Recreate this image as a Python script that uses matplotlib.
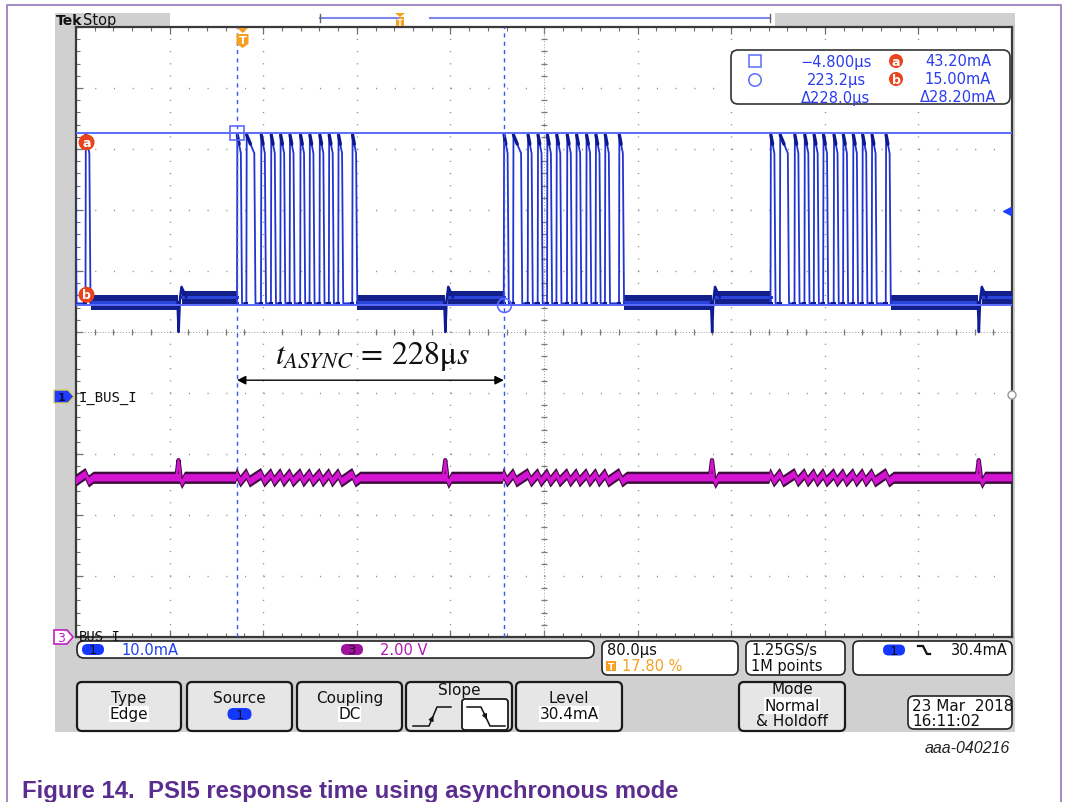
import numpy as np
import matplotlib
matplotlib.use('Agg')
import matplotlib.pyplot as plt
from matplotlib.patches import FancyBboxPatch, Rectangle, Circle, Polygon

plt.rcParams['font.family'] = ['DejaVu Sans']
plt.rcParams['mathtext.fontset'] = 'stix'

# scope settings
t_div = 80.0          # us/div
n_div = 10
trig_pct = 17.80      # trigger position in % of record
ch1_scale = 10.0      # mA/div  (I_BUS_I)
ch1_pos = -1.05       # div
ch3_scale = 2.0       # V/div   (BUS_I)
ch3_pos = -5.0        # div
trig_level = 30.4     # mA

# cursors
cur_t = [-4.8, 223.2]     # us
cur_i = [43.20, 15.00]    # mA

# waveform features (us / mA / V)
sync_t = [-55.2, 172.8, 400.8, 628.8]
burst_t = [-232.8, -4.8, 223.2, 451.2]
bit_off = [0.0, 8.0, 20.5, 29.0, 37.0, 45.0, 54.0, 62.0, 70.5, 78.5, 86.5, 98.5]
bit_hi = [3.0, 6.5, 3.0, 3.0, 3.0, 3.0, 3.0, 3.0, 3.0, 3.0, 3.0, 3.0]
i_top = 42.8
i_bot = 15.2
band_post = (14.1, 16.6)
band_pre = (15.1, 17.3)
i_dip = 10.5
i_over = 17.9
u_mid = 5.22
u_peak = 5.8
u_low = 5.05
u_ripple = (5.1, 5.34)
u_half = (0.2, 0.12)   # half thickness of the BUS_I trace: shadow, core

W, H = 1065, 803
T_LEFT = -trig_pct / 100 * n_div * t_div
T_RIGHT = T_LEFT + n_div * t_div
i_c = -ch1_pos * ch1_scale
u_c = -ch3_pos * ch3_scale

fig = plt.figure(figsize=(W / 100, H / 100), dpi=100)

bg = fig.add_axes([0, 0, 1, 1], zorder=0)
bg.set_xlim(0, W)
bg.set_ylim(H, 0)
bg.axis('off')

GREY = '#d0d0d0'
for x0, y0, x1, y1 in [(55, 14, 76, 733), (55, 638, 1015, 733), (55, 14, 170, 28),
                       (775, 14, 1015, 28), (1012, 14, 1015, 733)]:
    bg.add_patch(Rectangle((x0, y0), x1 - x0, y1 - y0, fc=GREY, ec='none'))
bg.plot([7, 7, 1061, 1061], [H, 6, 6, H], color='#9b80c0', lw=1.3)
bg.text(22, 798, 'Figure 14.  PSI5 response time using asynchronous mode',
        family='Liberation Sans', weight='bold', size=17.2, color='#5b2d8e', va='baseline')
bg.text(1010, 753, 'aaa-040216', family='Liberation Sans', style='italic', size=11.5,
        color='#222222', ha='right', va='baseline')

# graticule
ax = fig.add_axes([76 / W, 1 - 638 / H, 936 / W, 610 / H], zorder=1)
ax.set_xlim(T_LEFT, T_RIGHT)
ax.set_ylim(i_c - n_div / 2 * ch1_scale, i_c + n_div / 2 * ch1_scale)
ax.set_xticks(T_LEFT + t_div * np.arange(n_div + 1))
ax.set_xticks(T_LEFT + t_div / 5 * np.arange(5 * n_div + 1), minor=True)
y0 = i_c - n_div / 2 * ch1_scale
ax.set_yticks(y0 + ch1_scale * np.arange(n_div + 1))
ax.set_yticks(y0 + ch1_scale / 5 * np.arange(5 * n_div + 1), minor=True)
ax.tick_params(which='both', direction='in', top=True, right=True, color='#707070',
               labelbottom=False, labelleft=False)
ax.tick_params(which='major', length=5, width=0.9)
ax.tick_params(which='minor', length=3, width=0.8)
ax.grid(True, axis='x', which='major', color='#8a8a8a', lw=1.0, ls=(0, (0.8, 7.98)))
ax.grid(True, axis='y', which='major', color='#8a8a8a', lw=1.0, ls=(0, (0.8, 12.68)))
ax.set_axisbelow(True)
for sp in ax.spines.values():
    sp.set_color('#3a3a3a')
    sp.set_linewidth(1.6)

t_c = T_LEFT + n_div / 2 * t_div
ax.axhline(i_c, color='#9a9a9a', lw=0.7, ls=(0, (1, 2)), zorder=1)
ax.axvline(t_c, color='#9a9a9a', lw=0.7, ls=(0, (1, 2)), zorder=1)
xm = ax.get_xticks(minor=True)
ym = ax.get_yticks(minor=True)
ax.plot(xm, np.full(len(xm), i_c), ls='none', marker='|', ms=5, mew=0.9, color='#7a7a7a', zorder=1)
ax.plot(np.full(len(ym), t_c), ym, ls='none', marker='_', ms=5, mew=0.9, color='#7a7a7a', zorder=1)

# channel 1 idle noise bands
segs = []
for b in burst_t:
    end = b + bit_off[-1] + bit_hi[-1] + 1.3
    nxt = min([s for s in sync_t if s > end], default=T_RIGHT)
    segs.append((end, nxt, band_post))
for s in sync_t:
    nb = min([b for b in burst_t if b > s], default=T_RIGHT)
    segs.append((s + 3.0, nb, band_pre))
for t0, t1, (lo, hi) in segs:
    ax.fill_between([t0, t1], [lo, lo], [hi, hi], color='#13208a', lw=0, zorder=3)
    ax.plot([t0, t1], [(lo + hi) / 2] * 2, color='#2a44dc', lw=2.2, zorder=3)

# channel 1 bursts
for b in burst_t:
    ts, ys = [b - 0.05], [sum(band_pre) / 2]
    for off, hi in zip(bit_off, bit_hi):
        t0 = b + off
        ts += [t0, t0 + 0.3, t0 + 0.3 + hi, t0 + 1.3 + hi]
        ys += [i_bot, i_top, i_top - 3.0, i_bot]
        ax.plot([t0 + 0.3, t0 + 0.3 + hi * 0.5], [i_top, i_top - 1.5], color='#0c1890', lw=2.4,
                solid_capstyle='round', zorder=5)
        ax.plot([t0 - 1.2, t0], [i_bot, i_bot], color='#0c1890', lw=2.2, zorder=5)
    ts.append(ts[-1] + 0.05)
    ys.append(sum(band_post) / 2)
    ax.plot(ts, ys, color='#2234d0', lw=1.3, zorder=4)

# channel 1 sync dips
for s in sync_t:
    ax.plot([s - 0.4, s + 0.5, s + 1.5, s + 3.0, s + 7.0],
            [sum(band_post) / 2, i_dip, 15.6, i_over, sum(band_pre) / 2],
            color='#0f1c95', lw=1.8, zorder=5)

# cursors
for tc in cur_t:
    ax.axvline(tc, color='#3a55ff', lw=1.0, ls=(0, (3, 3)), zorder=6)
for ic in cur_i:
    ax.axhline(ic, color='#5b6cff', lw=1.4, zorder=6)
ax.plot(cur_t[0], cur_i[0], marker='s', ms=10, mfc='none', mec='#5b6cff', mew=1.2, zorder=7)
ax.plot(cur_t[1], cur_i[1], marker='o', ms=10, mfc='none', mec='#5b6cff', mew=1.2, zorder=7)
for lab, iv in [('a', 41.6), ('b', 16.6)]:
    ax.text(T_LEFT + 9.0, iv, lab, color='white', weight='bold', size=9, ha='center', va='center',
            zorder=8, bbox=dict(boxstyle='circle,pad=0.12', fc='#e8431c', ec='none'))
ax.plot(T_RIGHT - 4, trig_level, marker='<', ms=6, color='#2040ff', clip_on=False, zorder=8)

# t_async annotation
xt = ax.get_xaxis_transform()
ax.annotate('', xy=(cur_t[0], 0.421), xytext=(cur_t[1], 0.421), xycoords=xt, textcoords=xt,
            arrowprops=dict(arrowstyle='<|-|>', color='black', lw=1.0, mutation_scale=13,
                            shrinkA=0, shrinkB=0), zorder=8)
ax.text((cur_t[0] + cur_t[1]) / 2 + 2, 0.462, r'$t_{ASYNC}\,=\,228\mathrm{\mu}s$', transform=xt,
        ha='center', va='center', size=23, color='#111111', zorder=8)

# channel 3
ax3 = ax.twinx()
ax3.set_zorder(2)
ax3.set_ylim(u_c - n_div / 2 * ch3_scale, u_c + n_div / 2 * ch3_scale)
ax3.set_yticks([])
ax3.tick_params(right=False, labelright=False)
for sp in ax3.spines.values():
    sp.set_visible(False)
ut, uv = [burst_t[0] - 10], [u_mid]
events = sorted([(s, 0) for s in sync_t] + [(b, 1) for b in burst_t])
for t0, kind in events:
    if kind == 0:
        ut += [t0 - 0.6, t0 + 1.6, t0 + 3.5, t0 + 6.0]
        uv += [u_mid, u_mid, u_low, u_mid]
    else:
        ut.append(t0 - 1.0)
        uv.append(u_mid)
        for off in bit_off:
            ut += [t0 + off, t0 + off + 3.0]
            uv += [u_ripple[1], u_ripple[0]]
        ut.append(t0 + bit_off[-1] + 7.0)
        uv.append(u_mid)
ut.append(T_RIGHT + 10)
uv.append(u_mid)
ut = np.array(ut)
uv = np.array(uv)
ax3.fill_between(ut, uv - u_half[0], uv + u_half[0], color='#3c0a3c', lw=0, zorder=3)
ax3.fill_between(ut, uv - u_half[1], uv + u_half[1], color='#d414d2', lw=0, zorder=4)
for s in sync_t:
    sx = [s - 1.2, s + 0.4, s + 2.0]
    sy = [u_mid + 0.1, u_peak, u_mid + 0.1]
    ax3.plot(sx, sy, color='#3c0a3c', lw=3.0, zorder=3)
    ax3.plot(sx, sy, color='#d414d2', lw=1.6, zorder=4)

# overlay for the scope user interface
ov = fig.add_axes([0, 0, 1, 1], zorder=3)
ov.set_xlim(0, W)
ov.set_ylim(H, 0)
ov.axis('off')


def rbox(x0, y0, x1, y1, fc, ec='#222222', lw=1.2, r=5, z=3):
    ov.add_patch(FancyBboxPatch((x0, y0), x1 - x0, y1 - y0,
                                boxstyle=f'round,pad=0,rounding_size={r}',
                                fc=fc, ec=ec, lw=lw, zorder=z))


def oval(xc, yc, txt, fc, w=22, h=11, tc='#111111'):
    rbox(xc - w / 2, yc - h / 2, xc + w / 2, yc + h / 2, fc, ec='none', r=h / 2, z=4)
    ov.text(xc, yc + 0.5, txt, ha='center', va='center', size=9.5, color=tc, zorder=5)


# top bar
ov.text(56, 21, 'Tek', weight='bold', size=10, va='center', color='#111111')
ov.text(83, 21, 'Stop', size=10.5, va='center', color='#111111')
ov.plot([320, 398], [19, 19], color='#7a88ea', lw=1.5)
ov.plot([430, 770], [19, 19], color='#7a88ea', lw=1.5)
ov.plot([320, 320], [15, 23], color='#666666', lw=1)
ov.plot([770, 770], [15, 23], color='#666666', lw=1)
ov.add_patch(Rectangle((396, 18), 8, 9, fc='#f5a020', ec='none'))
ov.add_patch(Polygon([[395, 14], [405, 14], [400, 18]], fc='#f5a020', ec='none'))
ov.text(400, 23, 'T', color='white', size=6, weight='bold', ha='center', va='center')

# trigger marker on the screen
ov.add_patch(Polygon([[237, 29], [248, 29], [242.5, 34]], fc='#f5a020', ec='none', zorder=4))
ov.add_patch(Polygon([[236.5, 35], [248.5, 35], [248.5, 45], [242.5, 49], [236.5, 45]],
                     fc='#f5a020', ec='none', zorder=4))
ov.text(242.5, 41, 'T', color='white', size=8, weight='bold', ha='center', va='center', zorder=5)

# channel labels
ov.add_patch(Polygon([[54, 391], [68, 391], [74, 397.5], [68, 404], [54, 404]],
                     fc='#1f3cff', ec='#d8d060', lw=1, zorder=4))
ov.text(62, 398, '1', color='#0a0a40', size=8, weight='bold', ha='center', va='center', zorder=5)
ov.text(79, 398, 'I_BUS_I', size=10, family='DejaVu Sans Mono', va='center', color='#111111')
ov.add_patch(Polygon([[54, 631], [67, 631], [73, 638], [67, 645], [54, 645]],
                     fc='white', ec='#c020c0', lw=1.2, zorder=4))
ov.text(61, 638.5, '3', color='#c020c0', size=9, ha='center', va='center', zorder=5)
bus3 = ov.text(79, 644, 'BUS_I', size=10, family='DejaVu Sans Mono', va='bottom',
               color='#111111', zorder=2)
clip = Rectangle((76, 620), 200, 21, transform=ov.transData, fc='none', ec='none')
bus3.set_clip_path(clip)
ov.add_patch(Circle((1012, 396), 4, fc='white', ec='#999999', lw=1, zorder=4))

# cursor readout
BLUE_T = '#2b3cf0'
rbox(731, 51, 1010, 105, 'white', ec='#333333', lw=1.2, r=7)
ov.add_patch(Rectangle((749, 56), 12, 12, fc='none', ec='#5b6cff', lw=1.1, zorder=4))
ov.add_patch(Circle((755, 81), 6.2, fc='none', ec='#5b6cff', lw=1.1, zorder=4))
d_t = cur_t[1] - cur_t[0]
d_i = cur_i[0] - cur_i[1]
rows = [(f'{cur_t[0]:.3f}µs'.replace('-', '\u2212'), f'{cur_i[0]:.2f}mA'),
        (f'{cur_t[1]:.1f}µs', f'{cur_i[1]:.2f}mA'),
        (f'\u0394{d_t:.1f}µs', f'\u0394{d_i:.2f}mA')]
for k, (a_txt, b_txt) in enumerate(rows):
    yy = 62 + 18 * k
    ov.text(836, yy, a_txt, color=BLUE_T, size=10.5, ha='center', va='center', zorder=5)
    ov.text(958, yy, b_txt, color=BLUE_T, size=10.5, ha='center', va='center', zorder=5)
for lab, yy in [('a', 62), ('b', 80)]:
    ov.add_patch(Circle((896, yy), 7, fc='#e8431c', ec='none', zorder=4))
    ov.text(896, yy, lab, color='white', size=9, weight='bold', ha='center', va='center', zorder=5)

# info row
rbox(77, 642, 594, 659, 'white', r=7)
oval(93, 650.5, '1', '#1438ff')
ov.text(121, 650.5, f'{ch1_scale:.1f}mA', color='#2040f0', size=10.5, va='center', zorder=5)
oval(352, 650.5, '3', '#a0139e', tc='#2a0a2a')
ov.text(380, 650.5, f'{ch3_scale:.2f} V', color='#b018b0', size=10.5, va='center', zorder=5)

rbox(602, 642, 738, 676, 'white', r=6)
ov.text(607, 651, f'{t_div:.1f}µs', size=10.5, va='center', color='#111111', zorder=5)
ov.add_patch(Rectangle((606, 662), 10, 10, fc='#f5a020', ec='none', zorder=5))
ov.text(611, 667.5, 'T', color='white', size=6.5, weight='bold', ha='center', va='center', zorder=6)
ov.text(622, 667, f'{trig_pct:.2f} %', size=10.5, va='center', color='#f5a020', zorder=5)

rbox(746, 642, 845, 676, 'white', r=6)
ov.text(751, 651, '1.25GS/s', size=10.5, va='center', color='#111111', zorder=5)
ov.text(751, 667, '1M points', size=10.5, va='center', color='#111111', zorder=5)

rbox(853, 642, 1012, 676, 'white', r=6)
oval(894, 651, '1', '#1438ff')
ov.plot([918, 923, 927, 930], [647, 647, 655, 655], color='#111111', lw=1.6, zorder=5)
ov.text(1008, 651, f'{trig_level:.1f}mA', size=10.5, ha='right', va='center', color='#111111', zorder=5)

# buttons
BTN = '#e6e6e6'
for x0, x1, top, bot in [(77, 181, 'Type', 'Edge'), (187, 292, 'Source', None),
                         (297, 402, 'Coupling', 'DC'), (406, 512, None, None),
                         (516, 622, 'Level', f'{trig_level:.1f}mA')]:
    rbox(x0, 683, x1, 732, BTN, ec='#1a1a1a', lw=1.6, r=5)
    xc = (x0 + x1) / 2
    if top:
        ov.text(xc, 699, top, size=11, ha='center', va='center', color='#111111', zorder=5)
    if bot:
        ov.text(xc, 715, bot, size=11, ha='center', va='center', color='#111111', zorder=5,
                bbox=dict(boxstyle='square,pad=0.05', fc='white', ec='none'))
oval(239.5, 715, '1', '#1438ff', w=24, h=12)
ov.text(459, 691, 'Slope', size=11, ha='center', va='center', color='#111111', zorder=5)
ov.plot([413, 429, 437, 451], [727, 727, 708, 708], color='#111111', lw=1.1, zorder=5)
ov.annotate('', xy=(434.5, 714), xytext=(430.5, 723),
            arrowprops=dict(arrowstyle='-|>', color='#111111', lw=1, mutation_scale=7), zorder=5)
rbox(462, 700, 508, 731, 'white', ec='#1a1a1a', lw=1.3, r=3, z=4)
ov.plot([467, 481, 490, 505], [708, 708, 727, 727], color='#111111', lw=1.1, zorder=5)
ov.annotate('', xy=(488, 723), xytext=(483, 712),
            arrowprops=dict(arrowstyle='-|>', color='#111111', lw=1, mutation_scale=7), zorder=5)

rbox(739, 683, 845, 732, BTN, ec='#1a1a1a', lw=1.6, r=5)
ov.text(792, 690, 'Mode', size=11, ha='center', va='center', color='#111111', zorder=5)
ov.text(792, 706.5, 'Normal', size=11, ha='center', va='center', color='#111111', zorder=5,
        bbox=dict(boxstyle='square,pad=0.05', fc='white', ec='none'))
ov.text(792, 722, '& Holdoff', size=11, ha='center', va='center', color='#111111', zorder=5)

rbox(908, 697, 1012, 730, 'white', r=6)
ov.text(912, 707, '23 Mar  2018', size=11, va='center', color='#111111', zorder=5)
ov.text(912, 722, '16:11:02', size=11, va='center', color='#111111', zorder=5)

fig.savefig('out.png', dpi=100)
